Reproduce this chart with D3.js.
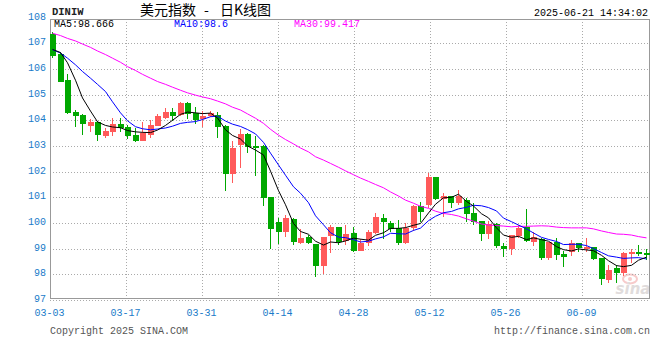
<!DOCTYPE html>
<html><head><meta charset="utf-8">
<script src="https://cdn.jsdelivr.net/npm/d3@7"></script>
<style>body{margin:0;background:#fff} svg{display:block}</style>
</head><body>
<svg id="c" width="660" height="360"></svg>
<script>
// ---------- data ----------
const dates = ["03-03","03-04","03-05","03-06","03-07","03-10","03-11","03-12","03-13","03-14",
"03-17","03-18","03-19","03-20","03-21","03-24","03-25","03-26","03-27","03-28",
"03-31","04-01","04-02","04-03","04-04","04-07","04-08","04-09","04-10","04-11",
"04-14","04-15","04-16","04-17","04-18","04-21","04-22","04-23","04-24","04-25",
"04-28","04-29","04-30","05-01","05-02","05-05","05-06","05-07","05-08","05-09",
"05-12","05-13","05-14","05-15","05-16","05-19","05-20","05-21","05-22","05-23",
"05-26","05-27","05-28","05-29","05-30","06-02","06-03","06-04","06-05","06-06",
"06-09","06-10","06-11","06-12","06-13","06-16","06-17","06-18","06-19","06-20"];
const open = [107.36,106.58,105.57,104.31,104.21,103.79,103.92,103.40,103.56,103.86,
103.74,103.43,103.21,103.44,103.79,104.09,104.31,104.21,104.68,104.29,
104.05,104.16,104.22,103.79,101.92,103.05,103.48,103.01,103.01,101.03,
100.04,99.66,100.17,99.22,99.44,99.19,98.34,99.48,99.86,99.30,
99.61,98.92,99.21,99.61,100.19,100.01,99.81,99.23,99.79,100.66,
100.71,101.79,100.94,101.05,100.79,100.90,100.40,100.08,99.58,99.96,
99.10,98.97,99.51,99.83,99.27,99.38,98.65,99.25,98.81,98.86,
99.21,98.97,99.05,98.62,97.79,98.26,98.06,98.80,98.88,98.85];
const high = [107.43,106.65,105.79,104.40,104.26,104.04,103.96,103.69,104.08,104.09,
103.83,103.69,103.94,104.00,104.26,104.47,104.48,104.71,104.70,104.52,
104.38,104.36,104.34,103.80,103.21,103.65,103.52,103.39,103.05,101.03,
100.18,100.31,100.19,99.75,99.52,99.19,99.45,99.92,99.86,99.92,
99.84,99.36,99.71,100.40,100.36,100.08,100.12,100.00,100.69,100.82,
101.96,101.79,101.18,101.05,101.29,100.97,100.79,100.08,100.08,100.01,
99.21,99.55,99.94,100.55,99.64,99.42,99.25,99.40,98.92,99.35,
99.21,99.40,99.07,98.63,98.38,98.36,98.88,98.99,99.16,98.99];
const low = [106.44,105.48,104.23,103.75,103.44,103.56,103.21,103.31,103.40,103.56,
103.29,103.16,103.19,103.31,103.77,104.04,103.96,104.18,104.04,103.86,
103.75,104.12,103.32,101.26,101.55,102.14,102.74,101.83,100.66,99.00,
99.18,99.47,99.14,99.18,99.19,97.91,98.00,98.84,99.14,99.14,
98.87,98.92,99.10,99.57,99.39,99.65,99.14,99.19,99.68,100.05,
100.58,100.90,100.25,100.60,100.69,100.03,99.92,99.30,99.39,99.01,
98.68,98.75,99.40,99.25,99.09,98.56,98.55,98.56,98.30,98.71,
98.86,98.86,98.55,97.58,97.66,97.66,97.94,98.44,98.70,98.57];
const close = [106.51,105.51,104.29,104.18,103.87,103.94,103.44,103.58,103.86,103.71,
103.40,103.18,103.51,103.82,104.18,104.31,104.18,104.68,104.25,104.01,
104.18,104.27,103.75,101.92,102.92,103.48,102.95,102.92,100.99,99.78,
99.66,100.19,99.27,99.43,99.23,98.34,99.45,99.86,99.27,99.57,
98.91,99.23,99.65,100.25,100.05,99.78,99.23,99.79,100.68,100.44,
101.79,100.94,101.05,100.79,101.05,100.36,100.03,99.58,99.96,99.10,
98.99,99.55,99.81,99.30,99.44,98.65,99.25,98.77,98.69,99.21,
99.01,99.07,98.60,97.82,98.17,98.06,98.84,98.88,98.80,98.75];
const ma5 = [106.76,106.64,106.24,105.56,104.87,104.36,103.94,103.80,103.74,103.71,
103.60,103.55,103.53,103.52,103.62,103.80,104.00,104.23,104.32,104.29,
104.26,104.28,104.09,103.63,103.41,103.27,103.00,102.84,102.65,102.02,
101.26,100.71,99.98,99.67,99.56,99.29,99.14,99.26,99.23,99.30,
99.41,99.37,99.33,99.52,99.62,99.79,99.79,99.82,99.91,99.98,
100.39,100.73,100.98,101.00,101.12,100.84,100.66,100.36,100.20,99.81,
99.53,99.44,99.48,99.35,99.42,99.35,99.29,99.08,98.96,98.91,
98.99,98.95,98.92,98.74,98.53,98.34,98.30,98.35,98.55,98.67];
const ma10 = [106.75,106.62,106.42,106.16,105.90,105.64,105.40,105.12,104.72,104.29,
103.98,103.75,103.67,103.63,103.66,103.70,103.77,103.88,103.92,103.95,
104.03,104.14,104.16,103.97,103.85,103.76,103.64,103.47,103.14,102.72,
102.26,101.86,101.41,101.16,100.79,100.28,99.93,99.62,99.45,99.43,
99.35,99.26,99.29,99.38,99.46,99.60,99.58,99.57,99.71,99.80,
100.09,100.26,100.40,100.45,100.55,100.61,100.69,100.67,100.60,100.47,
100.19,100.05,99.92,99.77,99.61,99.44,99.36,99.28,99.16,99.17,
99.17,99.12,99.00,98.85,98.72,98.67,98.62,98.64,98.65,98.60];
const ma30 = [107.39,107.30,107.19,107.09,106.97,106.84,106.70,106.56,106.42,106.26,
106.09,105.94,105.79,105.64,105.51,105.40,105.29,105.17,105.07,104.98,
104.91,104.84,104.75,104.64,104.51,104.40,104.25,104.08,103.88,103.65,
103.42,103.25,103.08,102.92,102.77,102.58,102.45,102.32,102.17,102.03,
101.88,101.75,101.62,101.50,101.37,101.21,101.05,100.89,100.77,100.65,
100.57,100.46,100.37,100.33,100.27,100.16,100.07,99.96,99.92,99.90,
99.88,99.85,99.87,99.87,99.88,99.89,99.88,99.84,99.82,99.81,
99.81,99.81,99.77,99.69,99.63,99.57,99.56,99.53,99.47,99.42];
const yTicks = [97,98,99,100,101,102,103,104,105,106,107,108];
const xTickLabels = ["03-03","03-17","03-31","04-14","04-28","05-12","05-26","06-09"];
const legendNames = ["MA5","MA10","MA30"];
const legendValues = ["98.666","98.6","99.417"];
const symbol = "DINIW";
const titleParts = ["美元指数", "-", "日K线图"];
const stamp = "2025-06-21 14:34:02";
const copyright = "Copyright 2025 SINA.COM";
const url = "http://finance.sina.com.cn";

// ---------- layout ----------
const svg = d3.select("#c");
const mono = "'Liberation Mono','DejaVu Sans Mono',monospace";
const L = 50, R = 650, T = 19, B = 298;
const x = d3.scaleBand().domain(dates).range([L, R]).paddingInner(0.2).paddingOuter(0);
const y = d3.scaleLinear().domain([97, 108]).range([300, 17.6]);
const xt = d3.scalePoint().domain(xTickLabels).range([49.5, 49.5 + 76 * (xTickLabels.length - 1)]);
const cx = d => Math.round(x(d) + x.bandwidth() / 2) - 0.5;
const gridColor = "#aaaaaa";
const blue = "#1a7bc9";

// watermark
const wm = svg.append("g").attr("opacity", 0.55);
wm.append("ellipse").attr("cx", 630).attr("cy", 279).attr("rx", 7).attr("ry", 4.5)
  .attr("fill", "none").attr("stroke", "#f2a0a0").attr("stroke-width", 2);
wm.append("circle").attr("cx", 630).attr("cy", 279).attr("r", 2).attr("fill", "#f2a0a0");
wm.append("text").attr("x", 633).attr("y", 294).attr("text-anchor", "middle")
  .attr("font-family", "'DejaVu Sans',sans-serif").attr("font-style", "italic").attr("font-weight", "bold")
  .attr("font-size", 15).attr("fill", "#c8c0c0").text("sina");

// horizontal grid
svg.append("g").selectAll("line").data(yTicks.filter(v => v < 108)).join("line")
  .attr("x1", L).attr("x2", R)
  .attr("y1", v => Math.round(y(v)) + 0.5).attr("y2", v => Math.round(y(v)) + 0.5)
  .attr("stroke", gridColor).attr("stroke-dasharray", "1,2").attr("shape-rendering", "crispEdges");
// vertical grid
svg.append("g").selectAll("line").data(xTickLabels.slice(1)).join("line")
  .attr("x1", d => Math.round(xt(d)) + 0.5).attr("x2", d => Math.round(xt(d)) + 0.5)
  .attr("y1", T).attr("y2", 300)
  .attr("stroke", gridColor).attr("stroke-dasharray", "1,2").attr("shape-rendering", "crispEdges");

// frame
const frame = svg.append("g").attr("stroke", "#999").attr("shape-rendering", "crispEdges").attr("fill", "none");
frame.append("path").attr("d", `M${L + 0.5},${B + 0.5}V${T + 0.5}H${R - 0.5}V${B + 0.5}H${L + 0.5}`);

// y labels
svg.append("g").selectAll("text").data(yTicks).join("text")
  .attr("x", 46).attr("y", v => y(v) + 2).attr("text-anchor", "end")
  .attr("font-family", mono).attr("font-size", 10).attr("fill", blue).text(v => v);
// x labels
svg.append("g").selectAll("text").data(xTickLabels).join("text")
  .attr("x", d => xt(d)).attr("y", 316).attr("text-anchor", "middle")
  .attr("font-family", mono).attr("font-size", 10).attr("fill", blue).text(d => d);

// candles
const up = "#ff5a5a", down = "#00a800";
const idx = d3.range(dates.length);
const col = i => close[i] >= open[i] ? up : down;
const cg = svg.append("g").attr("shape-rendering", "crispEdges");
cg.selectAll("line").data(idx).join("line")
  .attr("x1", i => cx(dates[i])).attr("x2", i => cx(dates[i]))
  .attr("y1", i => y(high[i])).attr("y2", i => y(low[i]))
  .attr("stroke", col);
cg.selectAll("rect").data(idx).join("rect")
  .attr("x", i => Math.round(x(dates[i])))
  .attr("width", Math.round(x.bandwidth()))
  .attr("y", i => y(Math.max(open[i], close[i])))
  .attr("height", i => Math.max(1, Math.abs(y(open[i]) - y(close[i]))))
  .attr("fill", col);

// MA lines
const series = [ma30, ma10, ma5];
const colors = ["#ff00ff", "#0000ff", "#000000"];
series.forEach((s, k) => {
  svg.append("path").datum(s)
    .attr("d", d3.line().x((v, i) => cx(dates[i])).y(v => y(v)))
    .attr("fill", "none").attr("stroke", colors[k]).attr("stroke-width", 1);
});

// header
svg.append("text").attr("x", 52).attr("y", 15).attr("font-family", mono).attr("font-weight", "bold")
  .attr("font-size", 10.5).attr("fill", "#222").text(symbol);
const tt = svg.append("text").attr("y", 14.5).attr("font-family", "'Noto Sans CJK SC',sans-serif")
  .attr("font-size", 14).attr("fill", "#000");
const titleX = [140, 204, 220];
titleParts.forEach((p, i) => tt.append("tspan").attr("x", titleX[i]).text(p));
svg.append("text").attr("x", 648).attr("y", 16).attr("text-anchor", "end").attr("font-family", mono)
  .attr("font-size", 10).attr("fill", "#000").text(stamp);
const legColors = ["#000000", "#0000ff", "#ff00ff"];
svg.append("g").selectAll("text").data(legendNames).join("text")
  .attr("x", (d, i) => 54 + i * 120).attr("y", 27).attr("font-family", mono).attr("font-size", 10)
  .attr("fill", (d, i) => legColors[i]).text((d, i) => d + ":" + legendValues[i]);

// footer
svg.append("text").attr("x", 50).attr("y", 333.5).attr("font-family", mono).attr("font-size", 10)
  .attr("fill", "#555").text(copyright);
svg.append("text").attr("x", 650).attr("y", 333.5).attr("text-anchor", "end").attr("font-family", mono)
  .attr("font-size", 10).attr("fill", "#555").text(url);
</script>
</body></html>
